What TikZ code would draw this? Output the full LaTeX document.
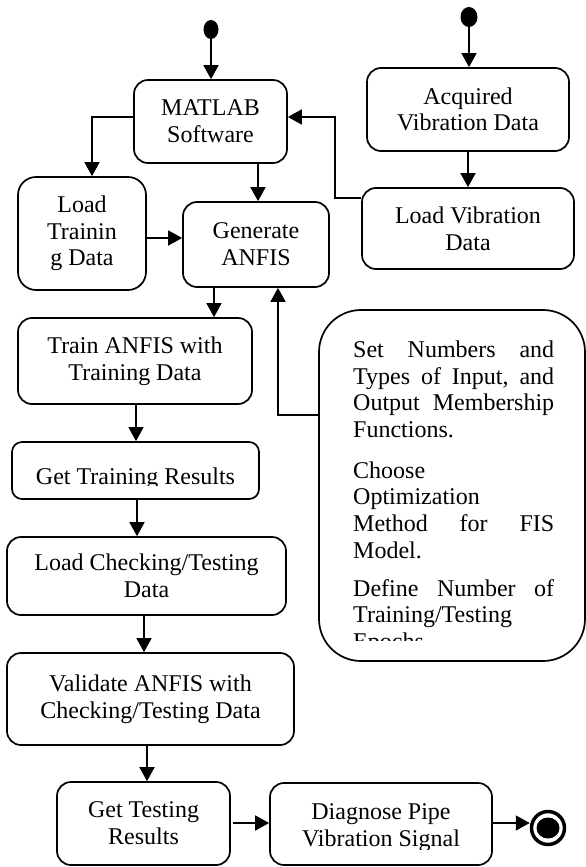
\documentclass[tikz,border=0pt]{standalone}
\usepackage{fontspec}
\setmainfont{Liberation Serif}
\usetikzlibrary{arrows.meta,shapes.geometric}
\begin{document}
\begin{tikzpicture}[x=1pt,y=-1pt,
  box/.style={draw, line width=1.7pt, rounded corners=14pt, align=center,
    font=\fontsize{24}{26.7}\selectfont, inner sep=0pt},
  txt/.style={align=center, font=\fontsize{24}{26.7}\selectfont, inner sep=0pt},
  arr/.style={line width=1.6pt, -{Triangle[length=14pt,width=15pt]}},
  startdot/.style={ellipse, fill=black, inner sep=0pt}
]
\useasboundingbox (0,0) rectangle (586,867);

% start dots
\node[startdot, minimum width=15pt, minimum height=19pt] (startL) at (211,29.5) {};
\node[startdot, minimum width=17pt, minimum height=20pt] (startR) at (469,17) {};

% boxes
\node[box, minimum width=153pt, minimum height=83pt] (matlab) at (210.5,121.5) {MATLAB\\Software};
\node[box, rounded corners=18pt, minimum width=128pt, minimum height=113pt] (loadtr) at (82,233.5) {Load\\Trainin\\g Data};
\node[box, minimum width=146pt, minimum height=85pt] (gen) at (256,244.5) {Generate\\ANFIS};
\node[box, minimum width=202pt, minimum height=83pt] (acq) at (468,109.5) {Acquired\\Vibration Data};
\node[box, minimum width=212pt, minimum height=81pt] (loadvib) at (468,228.5) {Load Vibration\\Data};
\node[box, minimum width=234pt, minimum height=86pt] (train) at (135,361) {Train ANFIS with\\Training Data};
\node[box, rounded corners=10pt, minimum width=247pt, minimum height=57pt] (gettr) at (135.5,470.5) {};
\node[box, minimum width=279pt, minimum height=78pt] (loadchk) at (146.5,576) {Load Checking/Testing\\Data};
\node[box, minimum width=287pt, minimum height=92pt] (valid) at (150.5,699) {Validate ANFIS with\\Checking/Testing Data};
\node[box, minimum width=173pt, minimum height=83pt] (gettest) at (143.5,823.5) {Get Testing\\Results};
\node[box, minimum width=222pt, minimum height=82pt] (diag) at (381,824) {};
\node[box, rounded corners=42pt, minimum width=266pt, minimum height=351pt] (big) at (452,485.5) {};

% clipped texts
\begin{scope}
  \clip (12,442) rectangle (259,485.5);
  \node[txt, anchor=base] (gettrt) at (135.5,484) {Get Training Results};
\end{scope}
\begin{scope}
  \clip (270,783) rectangle (492,849);
  \node[txt, anchor=north] (diagt) at (381,803.7) {Diagnose Pipe\\Vibration Signal};
\end{scope}
\begin{scope}
  \clip (319,310) rectangle (585,640);
  \node[txt, align=left, anchor=north west] (bigt) at (353,340.6) {%
    \hbox to 201pt{Set\hfill Numbers\hfill and}\\
    \hbox to 201pt{Types\hfill of\hfill Input,\hfill and}\\
    \hbox to 201pt{Output\hfill Membership}\\
    Functions.\\[14pt]
    Choose\\
    Optimization\\
    \hbox to 201pt{Method\hfill for\hfill FIS}\\
    Model.\\[11pt]
    \hbox to 201pt{Define\hfill Number\hfill of}\\
    Training/Testing\\
    Epochs};
\end{scope}

% end node
\node[circle, draw, line width=3.5pt, minimum size=33pt, inner sep=0pt] (endc) at (548,828) {};
\fill (endc.center) ellipse (11.5pt and 10.5pt);

% connectors
\draw[arr] (startL.south) -- (startL.south |- matlab.north);
\draw[arr] ([yshift=4.5pt]matlab.west) -| ([xshift=10pt]loadtr.north);
\draw[arr] ([xshift=2pt]matlab.south -| gen.north) -- ([xshift=2pt]gen.north);
\draw[arr] ([yshift=-4.5pt]loadtr.east) -- ([yshift=-4.5pt]loadtr.east -| gen.west);
\draw[arr] (startR.south) -- (startR.south |- acq.north);
\draw[arr] (acq.south) -- (loadvib.north);
\draw[arr] ([yshift=30.5pt]loadvib.west) -- ++(-26pt,0) |- ([yshift=4.5pt]matlab.east);
\draw[arr] ([xshift=-42pt]gen.south) -- ([xshift=-42pt]gen.south |- train.north);
\draw[arr] ([yshift=70.5pt]big.west) -| ([xshift=22pt]gen.south);
\draw[arr] ([xshift=1pt]train.south) -- ([xshift=1pt]train.south |- gettr.north);
\draw[arr] ([xshift=1.5pt]gettr.south) -- ([xshift=1.5pt]gettr.south |- loadchk.north);
\draw[arr] ([xshift=-2.5pt]loadchk.south) -- ([xshift=-2.5pt]loadchk.south |- valid.north);
\draw[arr] ([xshift=-3.5pt]valid.south) -- ([xshift=-3.5pt]valid.south |- gettest.north);
\draw[arr] ([xshift=2pt,yshift=0.5pt]gettest.east) -- ([yshift=0.5pt]gettest.east -| diag.west);
\draw[arr] ([yshift=1pt]diag.east) -- ([yshift=1pt]diag.east -| endc.west);
\end{tikzpicture}
\end{document}
